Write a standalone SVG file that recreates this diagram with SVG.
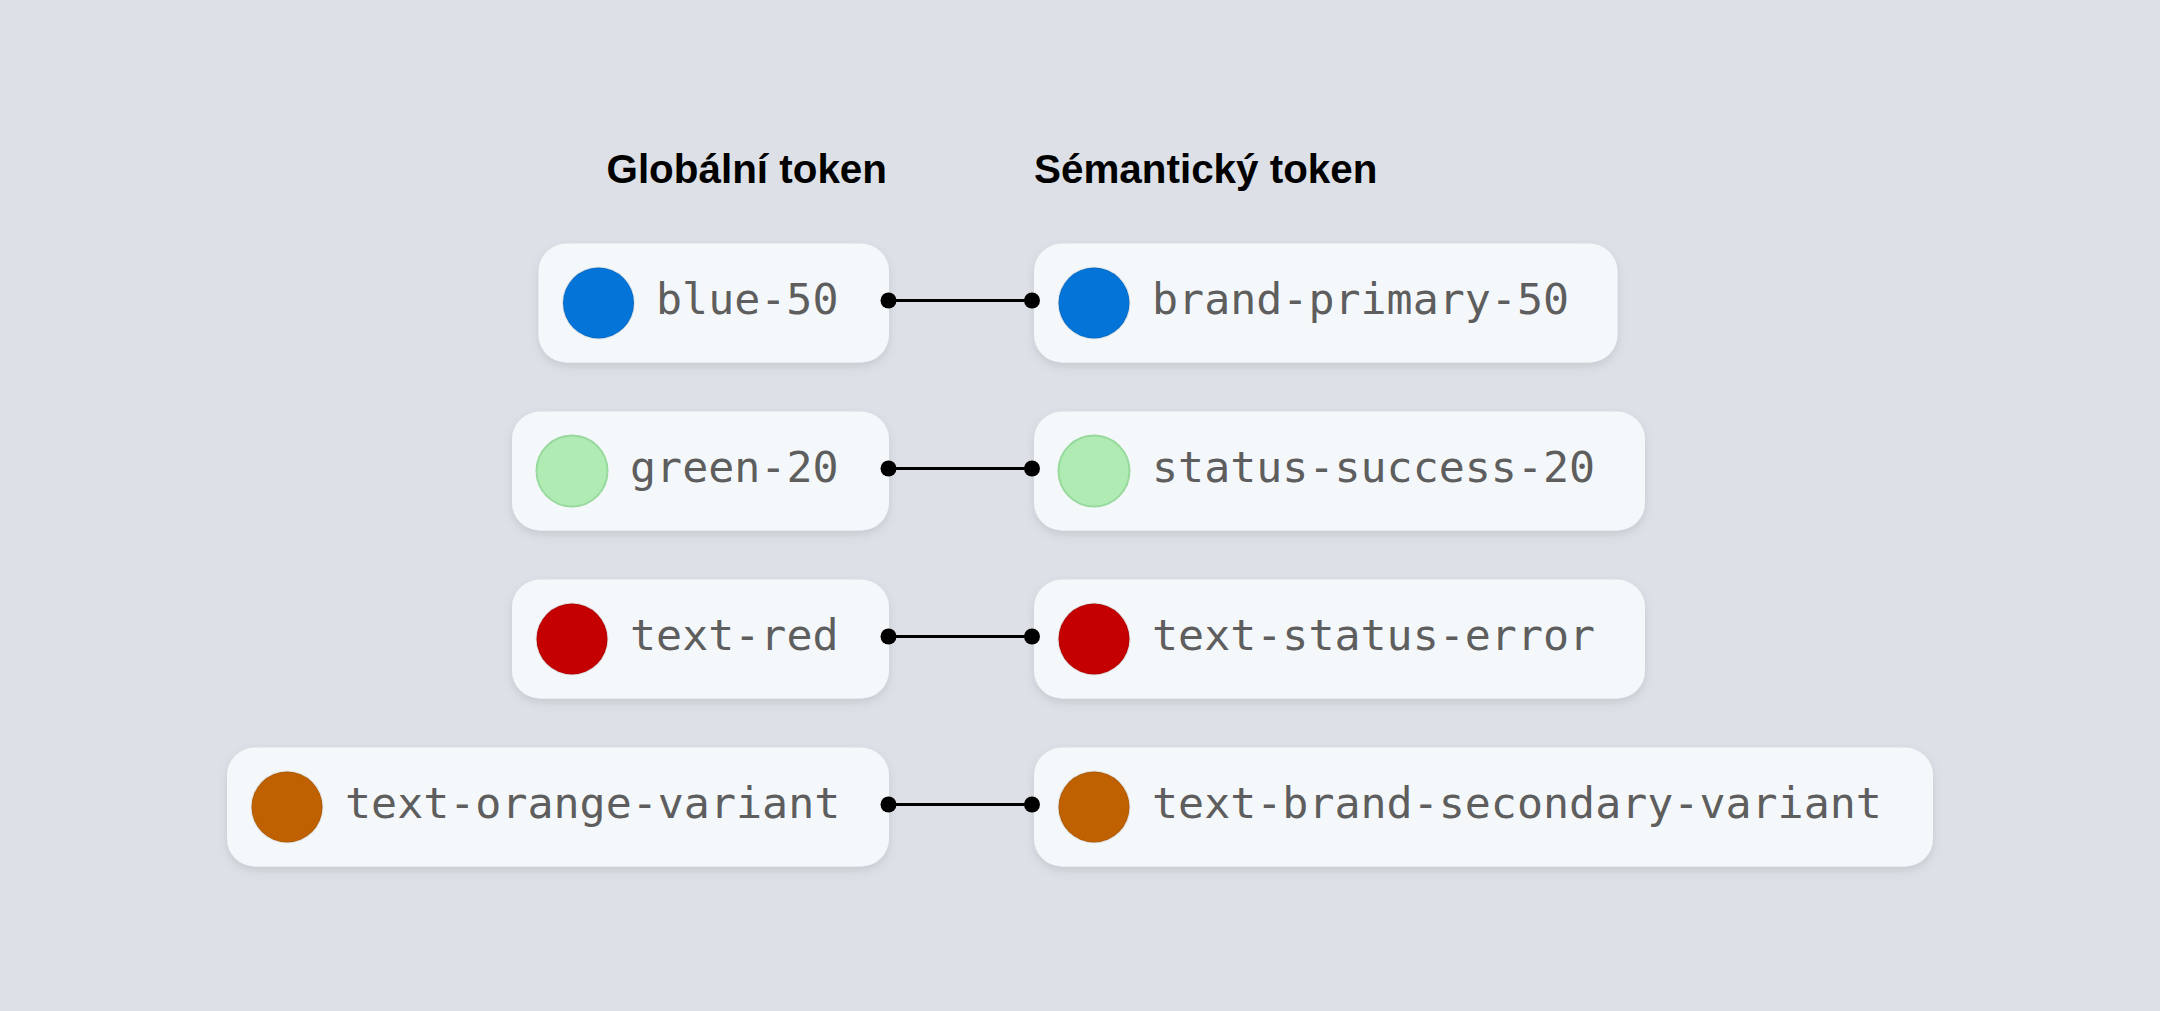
<svg xmlns="http://www.w3.org/2000/svg" width="2160" height="1011" viewBox="0 0 2160 1011">
<defs>
<filter id="sh" x="-10%" y="-20%" width="120%" height="150%">
<feDropShadow dx="0" dy="4" stdDeviation="5" flood-color="#000" flood-opacity="0.10"/>
</filter>
<style>
.node{fill:#f5f8fa;filter:url(#sh)}
.lbl{font-family:"DejaVu Sans Mono","Liberation Mono",monospace;font-size:43.3px;fill:#5e5e5e}
.hd{font-family:"Liberation Sans",Arial,sans-serif;font-size:40.4px;font-weight:700;fill:#000}
.dot{stroke:rgba(0,0,0,0.08);stroke-width:2}
.blue{fill:#0474d8}.green{fill:#b0ebb4;stroke:#98d99d}.red{fill:#c40000}.orange{fill:#bf6100}
.cn line{stroke:#000;stroke-width:3}
.cn circle{fill:#000}
</style>
</defs>
<rect width="2160" height="1011" fill="#dde1e7"/>
<g id="headings">
<text class="hd" x="887" y="183" text-anchor="end">Globální token</text>
<text class="hd" x="1034" y="183">Sémantický token</text>
</g>
<g id="g-blue-50">
<rect class="node" x="538.5" y="243.5" width="350.5" height="119" rx="28"/>
<circle class="dot blue" cx="598.5" cy="303" r="35.5"/>
<text class="lbl" x="656" y="313.5">blue-50</text>
</g>
<g id="s-brand-primary-50">
<rect class="node" x="1034" y="243.5" width="583.5" height="119" rx="28"/>
<circle class="dot blue" cx="1094" cy="303" r="35.5"/>
<text class="lbl" x="1152" y="313.5">brand-primary-50</text>
</g>
<g id="g-green-20">
<rect class="node" x="512" y="411.5" width="377" height="119" rx="28"/>
<circle class="dot green" cx="572" cy="471" r="35.5"/>
<text class="lbl" x="630" y="481.5">green-20</text>
</g>
<g id="s-status-success-20">
<rect class="node" x="1034" y="411.5" width="611" height="119" rx="28"/>
<circle class="dot green" cx="1094" cy="471" r="35.5"/>
<text class="lbl" x="1152" y="481.5">status-success-20</text>
</g>
<g id="g-text-red">
<rect class="node" x="512" y="579.5" width="377" height="119" rx="28"/>
<circle class="dot red" cx="572" cy="639" r="35.5"/>
<text class="lbl" x="630" y="649.5">text-red</text>
</g>
<g id="s-text-status-error">
<rect class="node" x="1034" y="579.5" width="611" height="119" rx="28"/>
<circle class="dot red" cx="1094" cy="639" r="35.5"/>
<text class="lbl" x="1152" y="649.5">text-status-error</text>
</g>
<g id="g-text-orange-variant">
<rect class="node" x="227" y="747.5" width="662" height="119" rx="28"/>
<circle class="dot orange" cx="287" cy="807" r="35.5"/>
<text class="lbl" x="345" y="817.5">text-orange-variant</text>
</g>
<g id="s-text-brand-secondary-variant">
<rect class="node" x="1034" y="747.5" width="899" height="119" rx="28"/>
<circle class="dot orange" cx="1094" cy="807" r="35.5"/>
<text class="lbl" x="1152" y="817.5">text-brand-secondary-variant</text>
</g>
<g id="connectors" class="cn">
<line x1="888.5" y1="300.5" x2="1032" y2="300.5"/><circle cx="888.5" cy="300.5" r="8"/><circle cx="1032" cy="300.5" r="8"/>
<line x1="888.5" y1="468.5" x2="1032" y2="468.5"/><circle cx="888.5" cy="468.5" r="8"/><circle cx="1032" cy="468.5" r="8"/>
<line x1="888.5" y1="636.5" x2="1032" y2="636.5"/><circle cx="888.5" cy="636.5" r="8"/><circle cx="1032" cy="636.5" r="8"/>
<line x1="888.5" y1="804.5" x2="1032" y2="804.5"/><circle cx="888.5" cy="804.5" r="8"/><circle cx="1032" cy="804.5" r="8"/>
</g>
</svg>
